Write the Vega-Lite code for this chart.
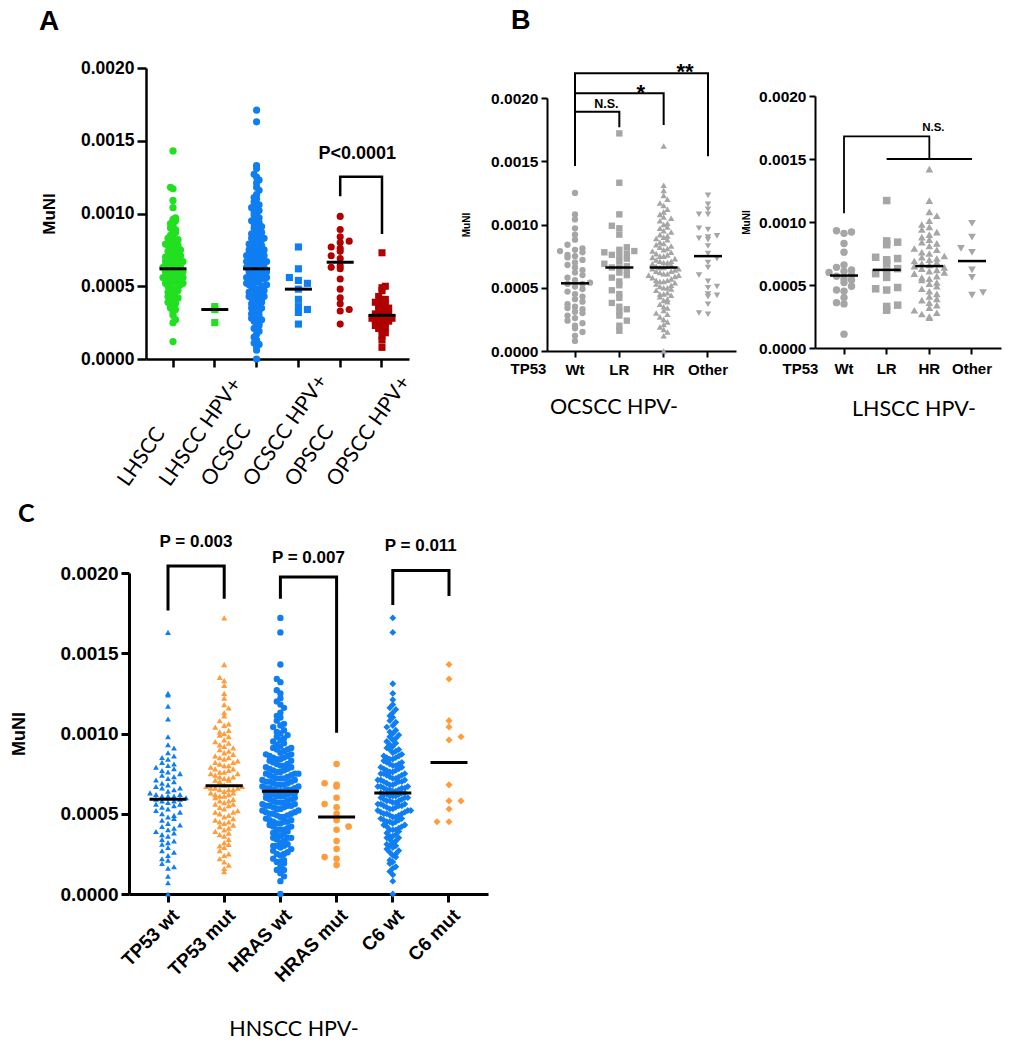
{
"$schema": "https://vega.github.io/schema/vega-lite/v6.json",
"padding": {"left": 10, "top": 7, "right": 5, "bottom": 5},
"config": {
 "view": {"stroke": null},
 "axis": {"grid": false, "domainColor": "#000", "tickColor": "#000", "labelColor": "#000", "titleColor": "#000", "labelFont": "Liberation Sans", "titleFont": "Liberation Sans", "labelFontWeight": "bold", "titleFontWeight": "bold"},
 "text": {"font": "Liberation Sans", "color": "#000"},
 "title": {"font": "Liberation Sans", "color": "#000"}
},
"datasets": {
"A": [
{"g":"LHSCC","v":0.00143},{"g":"LHSCC","v":0.00118},{"g":"LHSCC","v":0.00117},{"g":"LHSCC","v":0.00109},{"g":"LHSCC","v":0.00104},{"g":"LHSCC","v":0.00097},{"g":"LHSCC","v":0.00096},{"g":"LHSCC","v":0.00095},{"g":"LHSCC","v":0.00093},{"g":"LHSCC","v":0.00092},{"g":"LHSCC","v":0.0009},{"g":"LHSCC","v":0.00089},{"g":"LHSCC","v":0.00088},{"g":"LHSCC","v":0.00087},{"g":"LHSCC","v":0.00085},{"g":"LHSCC","v":0.00084},{"g":"LHSCC","v":0.00083},{"g":"LHSCC","v":0.00082},{"g":"LHSCC","v":0.00082},{"g":"LHSCC","v":0.00081},{"g":"LHSCC","v":0.0008},{"g":"LHSCC","v":0.00079},{"g":"LHSCC","v":0.00078},{"g":"LHSCC","v":0.00078},{"g":"LHSCC","v":0.00077},{"g":"LHSCC","v":0.00076},{"g":"LHSCC","v":0.00076},{"g":"LHSCC","v":0.00075},{"g":"LHSCC","v":0.00074},{"g":"LHSCC","v":0.00074},{"g":"LHSCC","v":0.00073},{"g":"LHSCC","v":0.00072},{"g":"LHSCC","v":0.00072},{"g":"LHSCC","v":0.00071},{"g":"LHSCC","v":0.0007},{"g":"LHSCC","v":0.0007},{"g":"LHSCC","v":0.00069},{"g":"LHSCC","v":0.00069},{"g":"LHSCC","v":0.00068},{"g":"LHSCC","v":0.00068},{"g":"LHSCC","v":0.00067},{"g":"LHSCC","v":0.00067},{"g":"LHSCC","v":0.00066},{"g":"LHSCC","v":0.00066},{"g":"LHSCC","v":0.00065},{"g":"LHSCC","v":0.00065},{"g":"LHSCC","v":0.00064},{"g":"LHSCC","v":0.00064},{"g":"LHSCC","v":0.00063},{"g":"LHSCC","v":0.00063},{"g":"LHSCC","v":0.00062},{"g":"LHSCC","v":0.00062},{"g":"LHSCC","v":0.00062},{"g":"LHSCC","v":0.00061},{"g":"LHSCC","v":0.00061},{"g":"LHSCC","v":0.00061},{"g":"LHSCC","v":0.0006},{"g":"LHSCC","v":0.0006},{"g":"LHSCC","v":0.00059},{"g":"LHSCC","v":0.00059},{"g":"LHSCC","v":0.00058},{"g":"LHSCC","v":0.00058},{"g":"LHSCC","v":0.00057},{"g":"LHSCC","v":0.00057},{"g":"LHSCC","v":0.00056},{"g":"LHSCC","v":0.00056},{"g":"LHSCC","v":0.00055},{"g":"LHSCC","v":0.00055},{"g":"LHSCC","v":0.00055},{"g":"LHSCC","v":0.00054},{"g":"LHSCC","v":0.00054},{"g":"LHSCC","v":0.00053},{"g":"LHSCC","v":0.00053},{"g":"LHSCC","v":0.00052},{"g":"LHSCC","v":0.00052},{"g":"LHSCC","v":0.00051},{"g":"LHSCC","v":0.0005},{"g":"LHSCC","v":0.0005},{"g":"LHSCC","v":0.00049},{"g":"LHSCC","v":0.00048},{"g":"LHSCC","v":0.00048},{"g":"LHSCC","v":0.00047},{"g":"LHSCC","v":0.00046},{"g":"LHSCC","v":0.00046},{"g":"LHSCC","v":0.00045},{"g":"LHSCC","v":0.00044},{"g":"LHSCC","v":0.00043},{"g":"LHSCC","v":0.00042},{"g":"LHSCC","v":0.00042},{"g":"LHSCC","v":0.00041},{"g":"LHSCC","v":0.0004},{"g":"LHSCC","v":0.00039},{"g":"LHSCC","v":0.00038},{"g":"LHSCC","v":0.00037},{"g":"LHSCC","v":0.00036},{"g":"LHSCC","v":0.00035},{"g":"LHSCC","v":0.00034},{"g":"LHSCC","v":0.00032},{"g":"LHSCC","v":0.0003},{"g":"LHSCC","v":0.00027},{"g":"LHSCC","v":0.00025},{"g":"LHSCC","v":0.00012},
{"g":"LHSCC HPV+","v":0.00036},{"g":"LHSCC HPV+","v":0.00034},{"g":"LHSCC HPV+","v":0.00025},
{"g":"OCSCC","v":0.00171},{"g":"OCSCC","v":0.00163},{"g":"OCSCC","v":0.00133},{"g":"OCSCC","v":0.00131},{"g":"OCSCC","v":0.00127},{"g":"OCSCC","v":0.00125},{"g":"OCSCC","v":0.00123},{"g":"OCSCC","v":0.00121},{"g":"OCSCC","v":0.00118},{"g":"OCSCC","v":0.00116},{"g":"OCSCC","v":0.00113},{"g":"OCSCC","v":0.00111},{"g":"OCSCC","v":0.0011},{"g":"OCSCC","v":0.00108},{"g":"OCSCC","v":0.00106},{"g":"OCSCC","v":0.00105},{"g":"OCSCC","v":0.00104},{"g":"OCSCC","v":0.00102},{"g":"OCSCC","v":0.00101},{"g":"OCSCC","v":0.001},{"g":"OCSCC","v":0.00099},{"g":"OCSCC","v":0.00097},{"g":"OCSCC","v":0.00096},{"g":"OCSCC","v":0.00095},{"g":"OCSCC","v":0.00094},{"g":"OCSCC","v":0.00093},{"g":"OCSCC","v":0.00092},{"g":"OCSCC","v":0.00091},{"g":"OCSCC","v":0.0009},{"g":"OCSCC","v":0.00089},{"g":"OCSCC","v":0.00088},{"g":"OCSCC","v":0.00087},{"g":"OCSCC","v":0.00086},{"g":"OCSCC","v":0.00086},{"g":"OCSCC","v":0.00085},{"g":"OCSCC","v":0.00084},{"g":"OCSCC","v":0.00083},{"g":"OCSCC","v":0.00083},{"g":"OCSCC","v":0.00082},{"g":"OCSCC","v":0.00081},{"g":"OCSCC","v":0.0008},{"g":"OCSCC","v":0.0008},{"g":"OCSCC","v":0.00079},{"g":"OCSCC","v":0.00078},{"g":"OCSCC","v":0.00078},{"g":"OCSCC","v":0.00077},{"g":"OCSCC","v":0.00076},{"g":"OCSCC","v":0.00076},{"g":"OCSCC","v":0.00075},{"g":"OCSCC","v":0.00075},{"g":"OCSCC","v":0.00074},{"g":"OCSCC","v":0.00074},{"g":"OCSCC","v":0.00073},{"g":"OCSCC","v":0.00072},{"g":"OCSCC","v":0.00072},{"g":"OCSCC","v":0.00071},{"g":"OCSCC","v":0.00071},{"g":"OCSCC","v":0.0007},{"g":"OCSCC","v":0.0007},{"g":"OCSCC","v":0.00069},{"g":"OCSCC","v":0.00069},{"g":"OCSCC","v":0.00068},{"g":"OCSCC","v":0.00068},{"g":"OCSCC","v":0.00067},{"g":"OCSCC","v":0.00067},{"g":"OCSCC","v":0.00066},{"g":"OCSCC","v":0.00066},{"g":"OCSCC","v":0.00065},{"g":"OCSCC","v":0.00065},{"g":"OCSCC","v":0.00065},{"g":"OCSCC","v":0.00064},{"g":"OCSCC","v":0.00064},{"g":"OCSCC","v":0.00063},{"g":"OCSCC","v":0.00063},{"g":"OCSCC","v":0.00063},{"g":"OCSCC","v":0.00062},{"g":"OCSCC","v":0.00062},{"g":"OCSCC","v":0.00062},{"g":"OCSCC","v":0.00061},{"g":"OCSCC","v":0.00061},{"g":"OCSCC","v":0.0006},{"g":"OCSCC","v":0.0006},{"g":"OCSCC","v":0.00059},{"g":"OCSCC","v":0.00059},{"g":"OCSCC","v":0.00058},{"g":"OCSCC","v":0.00058},{"g":"OCSCC","v":0.00057},{"g":"OCSCC","v":0.00057},{"g":"OCSCC","v":0.00056},{"g":"OCSCC","v":0.00056},{"g":"OCSCC","v":0.00055},{"g":"OCSCC","v":0.00055},{"g":"OCSCC","v":0.00055},{"g":"OCSCC","v":0.00054},{"g":"OCSCC","v":0.00054},{"g":"OCSCC","v":0.00053},{"g":"OCSCC","v":0.00053},{"g":"OCSCC","v":0.00052},{"g":"OCSCC","v":0.00051},{"g":"OCSCC","v":0.00051},{"g":"OCSCC","v":0.0005},{"g":"OCSCC","v":0.0005},{"g":"OCSCC","v":0.0005},{"g":"OCSCC","v":0.00049},{"g":"OCSCC","v":0.00048},{"g":"OCSCC","v":0.00048},{"g":"OCSCC","v":0.00047},{"g":"OCSCC","v":0.00046},{"g":"OCSCC","v":0.00046},{"g":"OCSCC","v":0.00045},{"g":"OCSCC","v":0.00045},{"g":"OCSCC","v":0.00045},{"g":"OCSCC","v":0.00044},{"g":"OCSCC","v":0.00043},{"g":"OCSCC","v":0.00043},{"g":"OCSCC","v":0.00042},{"g":"OCSCC","v":0.00041},{"g":"OCSCC","v":0.00041},{"g":"OCSCC","v":0.0004},{"g":"OCSCC","v":0.0004},{"g":"OCSCC","v":0.00039},{"g":"OCSCC","v":0.00038},{"g":"OCSCC","v":0.00037},{"g":"OCSCC","v":0.00037},{"g":"OCSCC","v":0.00036},{"g":"OCSCC","v":0.00035},{"g":"OCSCC","v":0.00035},{"g":"OCSCC","v":0.00034},{"g":"OCSCC","v":0.00033},{"g":"OCSCC","v":0.00032},{"g":"OCSCC","v":0.00031},{"g":"OCSCC","v":0.0003},{"g":"OCSCC","v":0.0003},{"g":"OCSCC","v":0.00029},{"g":"OCSCC","v":0.00028},{"g":"OCSCC","v":0.00027},{"g":"OCSCC","v":0.00026},{"g":"OCSCC","v":0.00025},{"g":"OCSCC","v":0.00024},{"g":"OCSCC","v":0.00023},{"g":"OCSCC","v":0.00021},{"g":"OCSCC","v":0.0002},{"g":"OCSCC","v":0.00019},{"g":"OCSCC","v":0.00017},{"g":"OCSCC","v":0.00015},{"g":"OCSCC","v":0.00013},{"g":"OCSCC","v":0.00011},{"g":"OCSCC","v":0.0001},{"g":"OCSCC","v":0.00008},{"g":"OCSCC","v":0.00006},{"g":"OCSCC","v":0},
{"g":"OCSCC HPV+","v":0.00077},{"g":"OCSCC HPV+","v":0.00062},{"g":"OCSCC HPV+","v":0.00056},{"g":"OCSCC HPV+","v":0.00054},{"g":"OCSCC HPV+","v":0.00052},{"g":"OCSCC HPV+","v":0.00048},{"g":"OCSCC HPV+","v":0.00041},{"g":"OCSCC HPV+","v":0.00036},{"g":"OCSCC HPV+","v":0.00034},{"g":"OCSCC HPV+","v":0.00032},{"g":"OCSCC HPV+","v":0.00024},
{"g":"OPSCC","v":0.00098},{"g":"OPSCC","v":0.00089},{"g":"OPSCC","v":0.00084},{"g":"OPSCC","v":0.00081},{"g":"OPSCC","v":0.0008},{"g":"OPSCC","v":0.00077},{"g":"OPSCC","v":0.00076},{"g":"OPSCC","v":0.00074},{"g":"OPSCC","v":0.00071},{"g":"OPSCC","v":0.00069},{"g":"OPSCC","v":0.00064},{"g":"OPSCC","v":0.00063},{"g":"OPSCC","v":0.00062},{"g":"OPSCC","v":0.00055},{"g":"OPSCC","v":0.00048},{"g":"OPSCC","v":0.00042},{"g":"OPSCC","v":0.00038},{"g":"OPSCC","v":0.00034},{"g":"OPSCC","v":0.00033},{"g":"OPSCC","v":0.00024},
{"g":"OPSCC HPV+","v":0.00073},{"g":"OPSCC HPV+","v":0.0005},{"g":"OPSCC HPV+","v":0.00049},{"g":"OPSCC HPV+","v":0.00047},{"g":"OPSCC HPV+","v":0.00043},{"g":"OPSCC HPV+","v":0.00041},{"g":"OPSCC HPV+","v":0.0004},{"g":"OPSCC HPV+","v":0.00039},{"g":"OPSCC HPV+","v":0.00038},{"g":"OPSCC HPV+","v":0.00037},{"g":"OPSCC HPV+","v":0.00036},{"g":"OPSCC HPV+","v":0.00035},{"g":"OPSCC HPV+","v":0.00034},{"g":"OPSCC HPV+","v":0.00033},{"g":"OPSCC HPV+","v":0.00032},{"g":"OPSCC HPV+","v":0.00031},{"g":"OPSCC HPV+","v":0.00031},{"g":"OPSCC HPV+","v":0.0003},{"g":"OPSCC HPV+","v":0.0003},{"g":"OPSCC HPV+","v":0.00029},{"g":"OPSCC HPV+","v":0.00028},{"g":"OPSCC HPV+","v":0.00028},{"g":"OPSCC HPV+","v":0.00027},{"g":"OPSCC HPV+","v":0.00026},{"g":"OPSCC HPV+","v":0.00025},{"g":"OPSCC HPV+","v":0.00025},{"g":"OPSCC HPV+","v":0.00024},{"g":"OPSCC HPV+","v":0.00023},{"g":"OPSCC HPV+","v":0.00022},{"g":"OPSCC HPV+","v":0.00021},{"g":"OPSCC HPV+","v":0.0002},{"g":"OPSCC HPV+","v":0.00018},{"g":"OPSCC HPV+","v":0.00016},{"g":"OPSCC HPV+","v":0.00013},{"g":"OPSCC HPV+","v":0.00008}
],
"B1": [
{"g":"Wt","v":0.00125},{"g":"Wt","v":0.00108},{"g":"Wt","v":0.00104},{"g":"Wt","v":0.00097},{"g":"Wt","v":0.00092},{"g":"Wt","v":0.00088},{"g":"Wt","v":0.00084},{"g":"Wt","v":0.00081},{"g":"Wt","v":0.0008},{"g":"Wt","v":0.00079},{"g":"Wt","v":0.00078},{"g":"Wt","v":0.00076},{"g":"Wt","v":0.00075},{"g":"Wt","v":0.00074},{"g":"Wt","v":0.00072},{"g":"Wt","v":0.0007},{"g":"Wt","v":0.00068},{"g":"Wt","v":0.00066},{"g":"Wt","v":0.00064},{"g":"Wt","v":0.00062},{"g":"Wt","v":0.0006},{"g":"Wt","v":0.00058},{"g":"Wt","v":0.00056},{"g":"Wt","v":0.00054},{"g":"Wt","v":0.00053},{"g":"Wt","v":0.00053},{"g":"Wt","v":0.00051},{"g":"Wt","v":0.00049},{"g":"Wt","v":0.00047},{"g":"Wt","v":0.00045},{"g":"Wt","v":0.00043},{"g":"Wt","v":0.00041},{"g":"Wt","v":0.00039},{"g":"Wt","v":0.00037},{"g":"Wt","v":0.00035},{"g":"Wt","v":0.00034},{"g":"Wt","v":0.00033},{"g":"Wt","v":0.00031},{"g":"Wt","v":0.0003},{"g":"Wt","v":0.00028},{"g":"Wt","v":0.00026},{"g":"Wt","v":0.00024},{"g":"Wt","v":0.00022},{"g":"Wt","v":0.0002},{"g":"Wt","v":0.00018},{"g":"Wt","v":0.00015},{"g":"Wt","v":0.00012},{"g":"Wt","v":0.00008},
{"g":"LR","v":0.00172},{"g":"LR","v":0.00133},{"g":"LR","v":0.00108},{"g":"LR","v":0.00099},{"g":"LR","v":0.00097},{"g":"LR","v":0.00092},{"g":"LR","v":0.00082},{"g":"LR","v":0.0008},{"g":"LR","v":0.00079},{"g":"LR","v":0.00078},{"g":"LR","v":0.00077},{"g":"LR","v":0.00076},{"g":"LR","v":0.00075},{"g":"LR","v":0.00073},{"g":"LR","v":0.00071},{"g":"LR","v":0.00069},{"g":"LR","v":0.00067},{"g":"LR","v":0.00066},{"g":"LR","v":0.00066},{"g":"LR","v":0.00064},{"g":"LR","v":0.00062},{"g":"LR","v":0.0006},{"g":"LR","v":0.00058},{"g":"LR","v":0.00055},{"g":"LR","v":0.00052},{"g":"LR","v":0.00048},{"g":"LR","v":0.00045},{"g":"LR","v":0.00042},{"g":"LR","v":0.00038},{"g":"LR","v":0.00035},{"g":"LR","v":0.00033},{"g":"LR","v":0.00031},{"g":"LR","v":0.00028},{"g":"LR","v":0.00024},{"g":"LR","v":0.0002},{"g":"LR","v":0.00016},
{"g":"HR","v":0.00162},{"g":"HR","v":0.00131},{"g":"HR","v":0.00127},{"g":"HR","v":0.00123},{"g":"HR","v":0.0012},{"g":"HR","v":0.00117},{"g":"HR","v":0.00115},{"g":"HR","v":0.00112},{"g":"HR","v":0.0011},{"g":"HR","v":0.00108},{"g":"HR","v":0.00106},{"g":"HR","v":0.00105},{"g":"HR","v":0.00103},{"g":"HR","v":0.00101},{"g":"HR","v":0.001},{"g":"HR","v":0.00098},{"g":"HR","v":0.00097},{"g":"HR","v":0.00095},{"g":"HR","v":0.00094},{"g":"HR","v":0.00092},{"g":"HR","v":0.00091},{"g":"HR","v":0.0009},{"g":"HR","v":0.00089},{"g":"HR","v":0.00088},{"g":"HR","v":0.00086},{"g":"HR","v":0.00085},{"g":"HR","v":0.00084},{"g":"HR","v":0.00083},{"g":"HR","v":0.00082},{"g":"HR","v":0.00081},{"g":"HR","v":0.0008},{"g":"HR","v":0.00079},{"g":"HR","v":0.00078},{"g":"HR","v":0.00077},{"g":"HR","v":0.00076},{"g":"HR","v":0.00075},{"g":"HR","v":0.00075},{"g":"HR","v":0.00074},{"g":"HR","v":0.00073},{"g":"HR","v":0.00072},{"g":"HR","v":0.00071},{"g":"HR","v":0.00071},{"g":"HR","v":0.0007},{"g":"HR","v":0.0007},{"g":"HR","v":0.00069},{"g":"HR","v":0.00068},{"g":"HR","v":0.00067},{"g":"HR","v":0.00067},{"g":"HR","v":0.00066},{"g":"HR","v":0.00066},{"g":"HR","v":0.00065},{"g":"HR","v":0.00065},{"g":"HR","v":0.00064},{"g":"HR","v":0.00063},{"g":"HR","v":0.00063},{"g":"HR","v":0.00062},{"g":"HR","v":0.00061},{"g":"HR","v":0.00061},{"g":"HR","v":0.0006},{"g":"HR","v":0.0006},{"g":"HR","v":0.00059},{"g":"HR","v":0.00058},{"g":"HR","v":0.00057},{"g":"HR","v":0.00056},{"g":"HR","v":0.00056},{"g":"HR","v":0.00055},{"g":"HR","v":0.00055},{"g":"HR","v":0.00054},{"g":"HR","v":0.00053},{"g":"HR","v":0.00052},{"g":"HR","v":0.00051},{"g":"HR","v":0.0005},{"g":"HR","v":0.0005},{"g":"HR","v":0.00049},{"g":"HR","v":0.00048},{"g":"HR","v":0.00046},{"g":"HR","v":0.00045},{"g":"HR","v":0.00045},{"g":"HR","v":0.00044},{"g":"HR","v":0.00043},{"g":"HR","v":0.00041},{"g":"HR","v":0.0004},{"g":"HR","v":0.00039},{"g":"HR","v":0.00037},{"g":"HR","v":0.00035},{"g":"HR","v":0.00034},{"g":"HR","v":0.00032},{"g":"HR","v":0.0003},{"g":"HR","v":0.00029},{"g":"HR","v":0.00027},{"g":"HR","v":0.00025},{"g":"HR","v":0.00023},{"g":"HR","v":0.00021},{"g":"HR","v":0.00019},{"g":"HR","v":0.00017},{"g":"HR","v":0.00015},{"g":"HR","v":0.00012},{"g":"HR","v":0},
{"g":"Other","v":0.00123},{"g":"Other","v":0.00116},{"g":"Other","v":0.00112},{"g":"Other","v":0.00108},{"g":"Other","v":0.00108},{"g":"Other","v":0.00097},{"g":"Other","v":0.00096},{"g":"Other","v":0.00091},{"g":"Other","v":0.0009},{"g":"Other","v":0.00089},{"g":"Other","v":0.00088},{"g":"Other","v":0.00083},{"g":"Other","v":0.00077},{"g":"Other","v":0.00073},{"g":"Other","v":0.0007},{"g":"Other","v":0.00066},{"g":"Other","v":0.0006},{"g":"Other","v":0.00055},{"g":"Other","v":0.00051},{"g":"Other","v":0.0005},{"g":"Other","v":0.00045},{"g":"Other","v":0.00044},{"g":"Other","v":0.00043},{"g":"Other","v":0.00037},{"g":"Other","v":0.0003},{"g":"Other","v":0.00029}
],
"B2": [
{"g":"Wt","v":0.00093},{"g":"Wt","v":0.00092},{"g":"Wt","v":0.00091},{"g":"Wt","v":0.00083},{"g":"Wt","v":0.00076},{"g":"Wt","v":0.00066},{"g":"Wt","v":0.00064},{"g":"Wt","v":0.00062},{"g":"Wt","v":0.00061},{"g":"Wt","v":0.0006},{"g":"Wt","v":0.00058},{"g":"Wt","v":0.00057},{"g":"Wt","v":0.00055},{"g":"Wt","v":0.00054},{"g":"Wt","v":0.00052},{"g":"Wt","v":0.00049},{"g":"Wt","v":0.00046},{"g":"Wt","v":0.00045},{"g":"Wt","v":0.0004},{"g":"Wt","v":0.00036},{"g":"Wt","v":0.00035},{"g":"Wt","v":0.00011},
{"g":"LR","v":0.00117},{"g":"LR","v":0.00085},{"g":"LR","v":0.00084},{"g":"LR","v":0.00082},{"g":"LR","v":0.00072},{"g":"LR","v":0.00071},{"g":"LR","v":0.0007},{"g":"LR","v":0.00067},{"g":"LR","v":0.00063},{"g":"LR","v":0.00061},{"g":"LR","v":0.00059},{"g":"LR","v":0.00056},{"g":"LR","v":0.00048},{"g":"LR","v":0.00047},{"g":"LR","v":0.00046},{"g":"LR","v":0.00034},{"g":"LR","v":0.00033},{"g":"LR","v":0.0003},
{"g":"HR","v":0.00142},{"g":"HR","v":0.00117},{"g":"HR","v":0.00108},{"g":"HR","v":0.00105},{"g":"HR","v":0.00101},{"g":"HR","v":0.00098},{"g":"HR","v":0.00096},{"g":"HR","v":0.00094},{"g":"HR","v":0.00092},{"g":"HR","v":0.0009},{"g":"HR","v":0.00088},{"g":"HR","v":0.00086},{"g":"HR","v":0.00084},{"g":"HR","v":0.00083},{"g":"HR","v":0.00081},{"g":"HR","v":0.00079},{"g":"HR","v":0.00078},{"g":"HR","v":0.00076},{"g":"HR","v":0.00075},{"g":"HR","v":0.00073},{"g":"HR","v":0.00072},{"g":"HR","v":0.00071},{"g":"HR","v":0.0007},{"g":"HR","v":0.00069},{"g":"HR","v":0.00068},{"g":"HR","v":0.00067},{"g":"HR","v":0.00066},{"g":"HR","v":0.00065},{"g":"HR","v":0.00064},{"g":"HR","v":0.00063},{"g":"HR","v":0.00062},{"g":"HR","v":0.00061},{"g":"HR","v":0.0006},{"g":"HR","v":0.00059},{"g":"HR","v":0.00057},{"g":"HR","v":0.00056},{"g":"HR","v":0.00055},{"g":"HR","v":0.00054},{"g":"HR","v":0.00052},{"g":"HR","v":0.00051},{"g":"HR","v":0.00049},{"g":"HR","v":0.00047},{"g":"HR","v":0.00045},{"g":"HR","v":0.00043},{"g":"HR","v":0.00041},{"g":"HR","v":0.00039},{"g":"HR","v":0.00038},{"g":"HR","v":0.00036},{"g":"HR","v":0.00034},{"g":"HR","v":0.00032},{"g":"HR","v":0.0003},{"g":"HR","v":0.00028},{"g":"HR","v":0.00027},{"g":"HR","v":0.00025},{"g":"HR","v":0.00024},
{"g":"Other","v":0.00099},{"g":"Other","v":0.00088},{"g":"Other","v":0.00079},{"g":"Other","v":0.00076},{"g":"Other","v":0.00062},{"g":"Other","v":0.00056},{"g":"Other","v":0.00044},{"g":"Other","v":0.00042}
],
"C": [
{"g":"TP53 wt","v":0.00163},{"g":"TP53 wt","v":0.00125},{"g":"TP53 wt","v":0.00124},{"g":"TP53 wt","v":0.00117},{"g":"TP53 wt","v":0.00109},{"g":"TP53 wt","v":0.00098},{"g":"TP53 wt","v":0.00093},{"g":"TP53 wt","v":0.00091},{"g":"TP53 wt","v":0.00088},{"g":"TP53 wt","v":0.00086},{"g":"TP53 wt","v":0.00085},{"g":"TP53 wt","v":0.00084},{"g":"TP53 wt","v":0.00082},{"g":"TP53 wt","v":0.00081},{"g":"TP53 wt","v":0.0008},{"g":"TP53 wt","v":0.00079},{"g":"TP53 wt","v":0.00078},{"g":"TP53 wt","v":0.00077},{"g":"TP53 wt","v":0.00076},{"g":"TP53 wt","v":0.00075},{"g":"TP53 wt","v":0.00074},{"g":"TP53 wt","v":0.00073},{"g":"TP53 wt","v":0.00072},{"g":"TP53 wt","v":0.00071},{"g":"TP53 wt","v":0.0007},{"g":"TP53 wt","v":0.00069},{"g":"TP53 wt","v":0.00068},{"g":"TP53 wt","v":0.00067},{"g":"TP53 wt","v":0.00066},{"g":"TP53 wt","v":0.00066},{"g":"TP53 wt","v":0.00065},{"g":"TP53 wt","v":0.00064},{"g":"TP53 wt","v":0.00063},{"g":"TP53 wt","v":0.00062},{"g":"TP53 wt","v":0.00062},{"g":"TP53 wt","v":0.00061},{"g":"TP53 wt","v":0.00061},{"g":"TP53 wt","v":0.00061},{"g":"TP53 wt","v":0.0006},{"g":"TP53 wt","v":0.00059},{"g":"TP53 wt","v":0.00059},{"g":"TP53 wt","v":0.00058},{"g":"TP53 wt","v":0.00058},{"g":"TP53 wt","v":0.00057},{"g":"TP53 wt","v":0.00056},{"g":"TP53 wt","v":0.00056},{"g":"TP53 wt","v":0.00055},{"g":"TP53 wt","v":0.00054},{"g":"TP53 wt","v":0.00053},{"g":"TP53 wt","v":0.00052},{"g":"TP53 wt","v":0.00051},{"g":"TP53 wt","v":0.0005},{"g":"TP53 wt","v":0.00049},{"g":"TP53 wt","v":0.00048},{"g":"TP53 wt","v":0.00047},{"g":"TP53 wt","v":0.00046},{"g":"TP53 wt","v":0.00044},{"g":"TP53 wt","v":0.00043},{"g":"TP53 wt","v":0.00042},{"g":"TP53 wt","v":0.00041},{"g":"TP53 wt","v":0.0004},{"g":"TP53 wt","v":0.00039},{"g":"TP53 wt","v":0.00038},{"g":"TP53 wt","v":0.00037},{"g":"TP53 wt","v":0.00036},{"g":"TP53 wt","v":0.00034},{"g":"TP53 wt","v":0.00033},{"g":"TP53 wt","v":0.00032},{"g":"TP53 wt","v":0.00031},{"g":"TP53 wt","v":0.00029},{"g":"TP53 wt","v":0.00027},{"g":"TP53 wt","v":0.00026},{"g":"TP53 wt","v":0.00024},{"g":"TP53 wt","v":0.00022},{"g":"TP53 wt","v":0.00021},{"g":"TP53 wt","v":0.00019},{"g":"TP53 wt","v":0.00017},{"g":"TP53 wt","v":0.00016},{"g":"TP53 wt","v":0.00011},{"g":"TP53 wt","v":0.00007},{"g":"TP53 wt","v":0},
{"g":"TP53 mut","v":0.00172},{"g":"TP53 mut","v":0.00143},{"g":"TP53 mut","v":0.00135},{"g":"TP53 mut","v":0.00133},{"g":"TP53 mut","v":0.0013},{"g":"TP53 mut","v":0.00125},{"g":"TP53 mut","v":0.00122},{"g":"TP53 mut","v":0.00118},{"g":"TP53 mut","v":0.00116},{"g":"TP53 mut","v":0.00113},{"g":"TP53 mut","v":0.00111},{"g":"TP53 mut","v":0.00108},{"g":"TP53 mut","v":0.00106},{"g":"TP53 mut","v":0.00105},{"g":"TP53 mut","v":0.00104},{"g":"TP53 mut","v":0.00102},{"g":"TP53 mut","v":0.00101},{"g":"TP53 mut","v":0.001},{"g":"TP53 mut","v":0.00099},{"g":"TP53 mut","v":0.00098},{"g":"TP53 mut","v":0.00096},{"g":"TP53 mut","v":0.00095},{"g":"TP53 mut","v":0.00094},{"g":"TP53 mut","v":0.00093},{"g":"TP53 mut","v":0.00092},{"g":"TP53 mut","v":0.00091},{"g":"TP53 mut","v":0.0009},{"g":"TP53 mut","v":0.00089},{"g":"TP53 mut","v":0.00088},{"g":"TP53 mut","v":0.00087},{"g":"TP53 mut","v":0.00086},{"g":"TP53 mut","v":0.00085},{"g":"TP53 mut","v":0.00085},{"g":"TP53 mut","v":0.00084},{"g":"TP53 mut","v":0.00083},{"g":"TP53 mut","v":0.00082},{"g":"TP53 mut","v":0.00082},{"g":"TP53 mut","v":0.00081},{"g":"TP53 mut","v":0.0008},{"g":"TP53 mut","v":0.0008},{"g":"TP53 mut","v":0.00079},{"g":"TP53 mut","v":0.00078},{"g":"TP53 mut","v":0.00078},{"g":"TP53 mut","v":0.00077},{"g":"TP53 mut","v":0.00076},{"g":"TP53 mut","v":0.00076},{"g":"TP53 mut","v":0.00075},{"g":"TP53 mut","v":0.00075},{"g":"TP53 mut","v":0.00074},{"g":"TP53 mut","v":0.00073},{"g":"TP53 mut","v":0.00073},{"g":"TP53 mut","v":0.00072},{"g":"TP53 mut","v":0.00072},{"g":"TP53 mut","v":0.00071},{"g":"TP53 mut","v":0.00071},{"g":"TP53 mut","v":0.0007},{"g":"TP53 mut","v":0.00068},{"g":"TP53 mut","v":0.00067},{"g":"TP53 mut","v":0.00067},{"g":"TP53 mut","v":0.00066},{"g":"TP53 mut","v":0.00066},{"g":"TP53 mut","v":0.00066},{"g":"TP53 mut","v":0.00065},{"g":"TP53 mut","v":0.00065},{"g":"TP53 mut","v":0.00065},{"g":"TP53 mut","v":0.00064},{"g":"TP53 mut","v":0.00063},{"g":"TP53 mut","v":0.00063},{"g":"TP53 mut","v":0.00062},{"g":"TP53 mut","v":0.00062},{"g":"TP53 mut","v":0.00061},{"g":"TP53 mut","v":0.00061},{"g":"TP53 mut","v":0.0006},{"g":"TP53 mut","v":0.00059},{"g":"TP53 mut","v":0.00058},{"g":"TP53 mut","v":0.00058},{"g":"TP53 mut","v":0.00057},{"g":"TP53 mut","v":0.00056},{"g":"TP53 mut","v":0.00056},{"g":"TP53 mut","v":0.00055},{"g":"TP53 mut","v":0.00054},{"g":"TP53 mut","v":0.00053},{"g":"TP53 mut","v":0.00052},{"g":"TP53 mut","v":0.00051},{"g":"TP53 mut","v":0.00051},{"g":"TP53 mut","v":0.0005},{"g":"TP53 mut","v":0.00049},{"g":"TP53 mut","v":0.00048},{"g":"TP53 mut","v":0.00047},{"g":"TP53 mut","v":0.00046},{"g":"TP53 mut","v":0.00045},{"g":"TP53 mut","v":0.00045},{"g":"TP53 mut","v":0.00044},{"g":"TP53 mut","v":0.00043},{"g":"TP53 mut","v":0.00042},{"g":"TP53 mut","v":0.00041},{"g":"TP53 mut","v":0.0004},{"g":"TP53 mut","v":0.00039},{"g":"TP53 mut","v":0.00038},{"g":"TP53 mut","v":0.00037},{"g":"TP53 mut","v":0.00036},{"g":"TP53 mut","v":0.00034},{"g":"TP53 mut","v":0.00032},{"g":"TP53 mut","v":0.00031},{"g":"TP53 mut","v":0.0003},{"g":"TP53 mut","v":0.00029},{"g":"TP53 mut","v":0.00027},{"g":"TP53 mut","v":0.00025},{"g":"TP53 mut","v":0.00024},{"g":"TP53 mut","v":0.00022},{"g":"TP53 mut","v":0.0002},{"g":"TP53 mut","v":0.00018},{"g":"TP53 mut","v":0.00016},{"g":"TP53 mut","v":0.00014},
{"g":"HRAS wt","v":0.00172},{"g":"HRAS wt","v":0.00163},{"g":"HRAS wt","v":0.00143},{"g":"HRAS wt","v":0.00134},{"g":"HRAS wt","v":0.00132},{"g":"HRAS wt","v":0.00127},{"g":"HRAS wt","v":0.00125},{"g":"HRAS wt","v":0.00122},{"g":"HRAS wt","v":0.0012},{"g":"HRAS wt","v":0.00118},{"g":"HRAS wt","v":0.00116},{"g":"HRAS wt","v":0.00113},{"g":"HRAS wt","v":0.00111},{"g":"HRAS wt","v":0.0011},{"g":"HRAS wt","v":0.00108},{"g":"HRAS wt","v":0.00106},{"g":"HRAS wt","v":0.00105},{"g":"HRAS wt","v":0.00104},{"g":"HRAS wt","v":0.00102},{"g":"HRAS wt","v":0.00101},{"g":"HRAS wt","v":0.001},{"g":"HRAS wt","v":0.00099},{"g":"HRAS wt","v":0.00098},{"g":"HRAS wt","v":0.00097},{"g":"HRAS wt","v":0.00096},{"g":"HRAS wt","v":0.00095},{"g":"HRAS wt","v":0.00094},{"g":"HRAS wt","v":0.00093},{"g":"HRAS wt","v":0.00092},{"g":"HRAS wt","v":0.00091},{"g":"HRAS wt","v":0.00091},{"g":"HRAS wt","v":0.0009},{"g":"HRAS wt","v":0.0009},{"g":"HRAS wt","v":0.00089},{"g":"HRAS wt","v":0.00088},{"g":"HRAS wt","v":0.00087},{"g":"HRAS wt","v":0.00087},{"g":"HRAS wt","v":0.00086},{"g":"HRAS wt","v":0.00086},{"g":"HRAS wt","v":0.00085},{"g":"HRAS wt","v":0.00085},{"g":"HRAS wt","v":0.00084},{"g":"HRAS wt","v":0.00084},{"g":"HRAS wt","v":0.00083},{"g":"HRAS wt","v":0.00083},{"g":"HRAS wt","v":0.00082},{"g":"HRAS wt","v":0.00081},{"g":"HRAS wt","v":0.00081},{"g":"HRAS wt","v":0.0008},{"g":"HRAS wt","v":0.0008},{"g":"HRAS wt","v":0.00079},{"g":"HRAS wt","v":0.00079},{"g":"HRAS wt","v":0.00078},{"g":"HRAS wt","v":0.00078},{"g":"HRAS wt","v":0.00077},{"g":"HRAS wt","v":0.00077},{"g":"HRAS wt","v":0.00076},{"g":"HRAS wt","v":0.00076},{"g":"HRAS wt","v":0.00075},{"g":"HRAS wt","v":0.00075},{"g":"HRAS wt","v":0.00075},{"g":"HRAS wt","v":0.00074},{"g":"HRAS wt","v":0.00074},{"g":"HRAS wt","v":0.00073},{"g":"HRAS wt","v":0.00073},{"g":"HRAS wt","v":0.00072},{"g":"HRAS wt","v":0.00072},{"g":"HRAS wt","v":0.00072},{"g":"HRAS wt","v":0.00071},{"g":"HRAS wt","v":0.00071},{"g":"HRAS wt","v":0.0007},{"g":"HRAS wt","v":0.0007},{"g":"HRAS wt","v":0.0007},{"g":"HRAS wt","v":0.00069},{"g":"HRAS wt","v":0.00069},{"g":"HRAS wt","v":0.00068},{"g":"HRAS wt","v":0.00068},{"g":"HRAS wt","v":0.00068},{"g":"HRAS wt","v":0.00067},{"g":"HRAS wt","v":0.00067},{"g":"HRAS wt","v":0.00066},{"g":"HRAS wt","v":0.00066},{"g":"HRAS wt","v":0.00066},{"g":"HRAS wt","v":0.00065},{"g":"HRAS wt","v":0.00065},{"g":"HRAS wt","v":0.00065},{"g":"HRAS wt","v":0.00064},{"g":"HRAS wt","v":0.00064},{"g":"HRAS wt","v":0.00064},{"g":"HRAS wt","v":0.00063},{"g":"HRAS wt","v":0.00063},{"g":"HRAS wt","v":0.00063},{"g":"HRAS wt","v":0.00062},{"g":"HRAS wt","v":0.00062},{"g":"HRAS wt","v":0.00062},{"g":"HRAS wt","v":0.00061},{"g":"HRAS wt","v":0.00061},{"g":"HRAS wt","v":0.00061},{"g":"HRAS wt","v":0.0006},{"g":"HRAS wt","v":0.0006},{"g":"HRAS wt","v":0.00059},{"g":"HRAS wt","v":0.00059},{"g":"HRAS wt","v":0.00058},{"g":"HRAS wt","v":0.00058},{"g":"HRAS wt","v":0.00057},{"g":"HRAS wt","v":0.00057},{"g":"HRAS wt","v":0.00057},{"g":"HRAS wt","v":0.00056},{"g":"HRAS wt","v":0.00056},{"g":"HRAS wt","v":0.00055},{"g":"HRAS wt","v":0.00055},{"g":"HRAS wt","v":0.00055},{"g":"HRAS wt","v":0.00055},{"g":"HRAS wt","v":0.00054},{"g":"HRAS wt","v":0.00054},{"g":"HRAS wt","v":0.00053},{"g":"HRAS wt","v":0.00053},{"g":"HRAS wt","v":0.00052},{"g":"HRAS wt","v":0.00052},{"g":"HRAS wt","v":0.00051},{"g":"HRAS wt","v":0.00051},{"g":"HRAS wt","v":0.0005},{"g":"HRAS wt","v":0.0005},{"g":"HRAS wt","v":0.0005},{"g":"HRAS wt","v":0.00049},{"g":"HRAS wt","v":0.00049},{"g":"HRAS wt","v":0.00048},{"g":"HRAS wt","v":0.00048},{"g":"HRAS wt","v":0.00047},{"g":"HRAS wt","v":0.00046},{"g":"HRAS wt","v":0.00046},{"g":"HRAS wt","v":0.00045},{"g":"HRAS wt","v":0.00045},{"g":"HRAS wt","v":0.00045},{"g":"HRAS wt","v":0.00044},{"g":"HRAS wt","v":0.00044},{"g":"HRAS wt","v":0.00043},{"g":"HRAS wt","v":0.00042},{"g":"HRAS wt","v":0.00042},{"g":"HRAS wt","v":0.00041},{"g":"HRAS wt","v":0.0004},{"g":"HRAS wt","v":0.0004},{"g":"HRAS wt","v":0.0004},{"g":"HRAS wt","v":0.00039},{"g":"HRAS wt","v":0.00038},{"g":"HRAS wt","v":0.00037},{"g":"HRAS wt","v":0.00037},{"g":"HRAS wt","v":0.00036},{"g":"HRAS wt","v":0.00035},{"g":"HRAS wt","v":0.00035},{"g":"HRAS wt","v":0.00035},{"g":"HRAS wt","v":0.00034},{"g":"HRAS wt","v":0.00033},{"g":"HRAS wt","v":0.00032},{"g":"HRAS wt","v":0.00031},{"g":"HRAS wt","v":0.0003},{"g":"HRAS wt","v":0.0003},{"g":"HRAS wt","v":0.0003},{"g":"HRAS wt","v":0.00029},{"g":"HRAS wt","v":0.00028},{"g":"HRAS wt","v":0.00027},{"g":"HRAS wt","v":0.00026},{"g":"HRAS wt","v":0.00025},{"g":"HRAS wt","v":0.00025},{"g":"HRAS wt","v":0.00024},{"g":"HRAS wt","v":0.00022},{"g":"HRAS wt","v":0.00021},{"g":"HRAS wt","v":0.0002},{"g":"HRAS wt","v":0.0002},{"g":"HRAS wt","v":0.00019},{"g":"HRAS wt","v":0.00017},{"g":"HRAS wt","v":0.00015},{"g":"HRAS wt","v":0.00015},{"g":"HRAS wt","v":0.00013},{"g":"HRAS wt","v":0.00011},{"g":"HRAS wt","v":0.00008},{"g":"HRAS wt","v":0},
{"g":"HRAS mut","v":0.00081},{"g":"HRAS mut","v":0.00069},{"g":"HRAS mut","v":0.00068},{"g":"HRAS mut","v":0.00067},{"g":"HRAS mut","v":0.0006},{"g":"HRAS mut","v":0.00056},{"g":"HRAS mut","v":0.00054},{"g":"HRAS mut","v":0.0005},{"g":"HRAS mut","v":0.00046},{"g":"HRAS mut","v":0.00042},{"g":"HRAS mut","v":0.0004},{"g":"HRAS mut","v":0.00033},{"g":"HRAS mut","v":0.00028},{"g":"HRAS mut","v":0.00023},{"g":"HRAS mut","v":0.00022},{"g":"HRAS mut","v":0.00018},
{"g":"C6 wt","v":0.00172},{"g":"C6 wt","v":0.00163},{"g":"C6 wt","v":0.00131},{"g":"C6 wt","v":0.00125},{"g":"C6 wt","v":0.00121},{"g":"C6 wt","v":0.00118},{"g":"C6 wt","v":0.00116},{"g":"C6 wt","v":0.00115},{"g":"C6 wt","v":0.00113},{"g":"C6 wt","v":0.00111},{"g":"C6 wt","v":0.0011},{"g":"C6 wt","v":0.00108},{"g":"C6 wt","v":0.00107},{"g":"C6 wt","v":0.00105},{"g":"C6 wt","v":0.00104},{"g":"C6 wt","v":0.00102},{"g":"C6 wt","v":0.00101},{"g":"C6 wt","v":0.001},{"g":"C6 wt","v":0.00099},{"g":"C6 wt","v":0.00098},{"g":"C6 wt","v":0.00097},{"g":"C6 wt","v":0.00096},{"g":"C6 wt","v":0.00095},{"g":"C6 wt","v":0.00094},{"g":"C6 wt","v":0.00093},{"g":"C6 wt","v":0.00092},{"g":"C6 wt","v":0.00091},{"g":"C6 wt","v":0.0009},{"g":"C6 wt","v":0.0009},{"g":"C6 wt","v":0.00089},{"g":"C6 wt","v":0.00088},{"g":"C6 wt","v":0.00087},{"g":"C6 wt","v":0.00086},{"g":"C6 wt","v":0.00086},{"g":"C6 wt","v":0.00085},{"g":"C6 wt","v":0.00085},{"g":"C6 wt","v":0.00084},{"g":"C6 wt","v":0.00084},{"g":"C6 wt","v":0.00083},{"g":"C6 wt","v":0.00082},{"g":"C6 wt","v":0.00082},{"g":"C6 wt","v":0.00081},{"g":"C6 wt","v":0.00081},{"g":"C6 wt","v":0.0008},{"g":"C6 wt","v":0.0008},{"g":"C6 wt","v":0.00079},{"g":"C6 wt","v":0.00079},{"g":"C6 wt","v":0.00078},{"g":"C6 wt","v":0.00078},{"g":"C6 wt","v":0.00077},{"g":"C6 wt","v":0.00077},{"g":"C6 wt","v":0.00076},{"g":"C6 wt","v":0.00076},{"g":"C6 wt","v":0.00075},{"g":"C6 wt","v":0.00075},{"g":"C6 wt","v":0.00075},{"g":"C6 wt","v":0.00074},{"g":"C6 wt","v":0.00074},{"g":"C6 wt","v":0.00073},{"g":"C6 wt","v":0.00073},{"g":"C6 wt","v":0.00072},{"g":"C6 wt","v":0.00072},{"g":"C6 wt","v":0.00071},{"g":"C6 wt","v":0.00071},{"g":"C6 wt","v":0.00071},{"g":"C6 wt","v":0.0007},{"g":"C6 wt","v":0.0007},{"g":"C6 wt","v":0.0007},{"g":"C6 wt","v":0.00069},{"g":"C6 wt","v":0.00069},{"g":"C6 wt","v":0.00068},{"g":"C6 wt","v":0.00068},{"g":"C6 wt","v":0.00067},{"g":"C6 wt","v":0.00067},{"g":"C6 wt","v":0.00067},{"g":"C6 wt","v":0.00066},{"g":"C6 wt","v":0.00066},{"g":"C6 wt","v":0.00066},{"g":"C6 wt","v":0.00065},{"g":"C6 wt","v":0.00065},{"g":"C6 wt","v":0.00065},{"g":"C6 wt","v":0.00064},{"g":"C6 wt","v":0.00064},{"g":"C6 wt","v":0.00063},{"g":"C6 wt","v":0.00063},{"g":"C6 wt","v":0.00063},{"g":"C6 wt","v":0.00062},{"g":"C6 wt","v":0.00062},{"g":"C6 wt","v":0.00062},{"g":"C6 wt","v":0.00061},{"g":"C6 wt","v":0.00061},{"g":"C6 wt","v":0.00061},{"g":"C6 wt","v":0.0006},{"g":"C6 wt","v":0.0006},{"g":"C6 wt","v":0.0006},{"g":"C6 wt","v":0.00059},{"g":"C6 wt","v":0.00059},{"g":"C6 wt","v":0.00058},{"g":"C6 wt","v":0.00058},{"g":"C6 wt","v":0.00058},{"g":"C6 wt","v":0.00057},{"g":"C6 wt","v":0.00057},{"g":"C6 wt","v":0.00056},{"g":"C6 wt","v":0.00056},{"g":"C6 wt","v":0.00056},{"g":"C6 wt","v":0.00055},{"g":"C6 wt","v":0.00055},{"g":"C6 wt","v":0.00055},{"g":"C6 wt","v":0.00054},{"g":"C6 wt","v":0.00054},{"g":"C6 wt","v":0.00053},{"g":"C6 wt","v":0.00053},{"g":"C6 wt","v":0.00052},{"g":"C6 wt","v":0.00052},{"g":"C6 wt","v":0.00052},{"g":"C6 wt","v":0.00051},{"g":"C6 wt","v":0.00051},{"g":"C6 wt","v":0.0005},{"g":"C6 wt","v":0.0005},{"g":"C6 wt","v":0.0005},{"g":"C6 wt","v":0.00049},{"g":"C6 wt","v":0.00049},{"g":"C6 wt","v":0.00048},{"g":"C6 wt","v":0.00048},{"g":"C6 wt","v":0.00047},{"g":"C6 wt","v":0.00047},{"g":"C6 wt","v":0.00046},{"g":"C6 wt","v":0.00046},{"g":"C6 wt","v":0.00045},{"g":"C6 wt","v":0.00045},{"g":"C6 wt","v":0.00045},{"g":"C6 wt","v":0.00044},{"g":"C6 wt","v":0.00043},{"g":"C6 wt","v":0.00043},{"g":"C6 wt","v":0.00042},{"g":"C6 wt","v":0.00042},{"g":"C6 wt","v":0.00041},{"g":"C6 wt","v":0.0004},{"g":"C6 wt","v":0.0004},{"g":"C6 wt","v":0.0004},{"g":"C6 wt","v":0.00039},{"g":"C6 wt","v":0.00038},{"g":"C6 wt","v":0.00037},{"g":"C6 wt","v":0.00036},{"g":"C6 wt","v":0.00036},{"g":"C6 wt","v":0.00035},{"g":"C6 wt","v":0.00035},{"g":"C6 wt","v":0.00034},{"g":"C6 wt","v":0.00033},{"g":"C6 wt","v":0.00032},{"g":"C6 wt","v":0.00031},{"g":"C6 wt","v":0.0003},{"g":"C6 wt","v":0.0003},{"g":"C6 wt","v":0.00029},{"g":"C6 wt","v":0.00028},{"g":"C6 wt","v":0.00027},{"g":"C6 wt","v":0.00026},{"g":"C6 wt","v":0.00025},{"g":"C6 wt","v":0.00024},{"g":"C6 wt","v":0.00023},{"g":"C6 wt","v":0.00021},{"g":"C6 wt","v":0.0002},{"g":"C6 wt","v":0.00019},{"g":"C6 wt","v":0.00017},{"g":"C6 wt","v":0.00016},{"g":"C6 wt","v":0.00014},{"g":"C6 wt","v":0.00012},{"g":"C6 wt","v":0.00008},{"g":"C6 wt","v":0},
{"g":"C6 mut","v":0.00143},{"g":"C6 mut","v":0.00134},{"g":"C6 mut","v":0.00108},{"g":"C6 mut","v":0.00104},{"g":"C6 mut","v":0.00098},{"g":"C6 mut","v":0.00096},{"g":"C6 mut","v":0.00068},{"g":"C6 mut","v":0.00058},{"g":"C6 mut","v":0.00058},{"g":"C6 mut","v":0.00053},{"g":"C6 mut","v":0.00045},{"g":"C6 mut","v":0.00045}
],
"brA": [
{"b":1,"o":1,"g":"OPSCC","v":0.001118},{"b":1,"o":2,"g":"OPSCC","v":0.001253},{"b":1,"o":3,"g":"OPSCC HPV+","v":0.001253},{"b":1,"o":4,"g":"OPSCC HPV+","v":0.000859}
],
"brB1": [
{"b":1,"o":1,"g":"Wt","v":0.001465},{"b":1,"o":2,"g":"Wt","v":0.001892},{"b":1,"o":3,"g":"LR","v":0.001892},{"b":1,"o":4,"g":"LR","v":0.001768},
{"b":2,"o":1,"g":"Wt","v":0.001465},{"b":2,"o":2,"g":"Wt","v":0.002037},{"b":2,"o":3,"g":"HR","v":0.002037},{"b":2,"o":4,"g":"HR","v":0.001787},
{"b":3,"o":1,"g":"Wt","v":0.001465},{"b":3,"o":2,"g":"Wt","v":0.002195},{"b":3,"o":3,"g":"Other","v":0.002195},{"b":3,"o":4,"g":"Other","v":0.001539}
],
"brB2": [
{"b":1,"o":1,"g":"Wt","v":0.00107},{"b":1,"o":2,"g":"Wt","v":0.00168},{"b":1,"o":3,"g":"HR","v":0.00168},{"b":1,"o":4,"g":"HR","v":0.0015},
{"b":2,"o":1,"g":"LR","v":0.0015},{"b":2,"o":2,"g":"Other","v":0.0015}
],
"brC": [
{"b":1,"o":1,"g":"TP53 wt","v":0.001767},{"b":1,"o":2,"g":"TP53 wt","v":0.002044},{"b":1,"o":3,"g":"TP53 mut","v":0.002044},{"b":1,"o":4,"g":"TP53 mut","v":0.00184},
{"b":2,"o":1,"g":"HRAS wt","v":0.00184},{"b":2,"o":2,"g":"HRAS wt","v":0.001975},{"b":2,"o":3,"g":"HRAS mut","v":0.001975},{"b":2,"o":4,"g":"HRAS mut","v":0.001004},
{"b":3,"o":1,"g":"C6 wt","v":0.0018},{"b":3,"o":2,"g":"C6 wt","v":0.002016},{"b":3,"o":3,"g":"C6 mut","v":0.002016},{"b":3,"o":4,"g":"C6 mut","v":0.001857}
]
},
"columns": 3,
"align": "each",
"bounds": "flush",
"spacing": {"row": 214, "column": 59},
"resolve": {"scale": {"x": "independent", "y": "independent", "color": "independent", "shape": "independent", "size": "independent", "xOffset": "independent"}},
"concat": [
{
 "width": 280, "height": 291,
 "title": {"text": "A", "anchor": "start", "frame": "group", "dx": -90, "offset": 1, "fontSize": 28, "fontWeight": "bold", "baseline": "alphabetic"},
 "encoding": {
  "x": {"field": "g", "type": "nominal", "scale": {"type": "band", "domain": ["LHSCC","LHSCC HPV+","OCSCC","OCSCC HPV+","OPSCC","OPSCC HPV+"], "range": [17, 280], "paddingInner": 0, "paddingOuter": 0.146},
        "axis": {"title": null, "labelFont": "Lato", "labelFontSize": 21, "labelFontWeight": "normal", "labelAngle": -55, "labelAlign": "left", "labelBaseline": "alphabetic", "labelOffset": -45, "labelPadding": 120, "labelOverlap": false, "labelBound": false, "labelLimit": 300, "domainWidth": 2.5, "tickWidth": 2.5, "tickSize": 8}},
  "y": {"field": "v", "type": "quantitative", "scale": {"domain": [0, 0.002], "nice": false},
        "axis": {"title": "MuNI", "titleFontSize": 17, "titlePadding": 22, "values": [0, 0.0005, 0.001, 0.0015, 0.002], "format": ".4f", "labelFontSize": 17.5, "labelPadding": 3, "domainWidth": 2.5, "tickWidth": 2.5, "tickSize": 9, "offset": -17}}
 },
 "layer": [
  {"data": {"name": "A"},
   "transform": [
    {"calculate": "floor(datum.v/0.00004)", "as": "bin"},
    {"joinaggregate": [{"op": "count", "as": "nb"}], "groupby": ["g", "bin"]},
    {"joinaggregate": [{"op": "max", "field": "nb", "as": "mx"}], "groupby": ["g"]},
    {"window": [{"op": "row_number", "as": "r"}], "groupby": ["g", "bin"], "sort": [{"field": "v", "order": "ascending"}]},
    {"calculate": "(datum.r%2==0?1:-1)*floor(datum.r/2)*(datum.bin%2==0?1:-1)*min(9,10/max(1,floor(datum.mx/2)))", "as": "o"}
   ],
   "mark": {"type": "point", "filled": true, "opacity": 1, "strokeWidth": 0},
   "encoding": {
    "xOffset": {"field": "o", "type": "quantitative", "scale": {"domain": [-20.9, 20.9]}},
    "color": {"field": "g", "type": "nominal", "legend": null, "scale": {"domain": ["LHSCC","LHSCC HPV+","OCSCC","OCSCC HPV+","OPSCC","OPSCC HPV+"], "range": ["#21e021","#21e021","#0f7ef2","#0f7ef2","#b00000","#b00000"]}},
    "shape": {"field": "g", "type": "nominal", "legend": null, "scale": {"domain": ["LHSCC","LHSCC HPV+","OCSCC","OCSCC HPV+","OPSCC","OPSCC HPV+"], "range": ["circle","square","circle","square","circle","square"]}},
    "size": {"field": "g", "type": "nominal", "legend": null, "scale": {"domain": ["LHSCC","LHSCC HPV+","OCSCC","OCSCC HPV+","OPSCC","OPSCC HPV+"], "range": [52, 50, 52, 50, 64, 55]}}
   }},
  {"data": {"name": "A"}, "mark": {"type": "tick", "color": "#000", "thickness": 3, "size": 27},
   "encoding": {"y": {"aggregate": "median", "field": "v", "type": "quantitative", "title": "MuNI"}}},
  {"data": {"name": "brA"}, "mark": {"type": "line", "color": "#000", "strokeWidth": 2.5},
   "encoding": {"detail": {"field": "b", "type": "nominal"}, "order": {"field": "o", "type": "quantitative"}}},
  {"data": {"values": [{"g": "OPSCC", "v": 0.001409, "t": "P<0.0001"}]},
   "mark": {"type": "text", "dx": 17, "fontSize": 18, "fontWeight": "bold", "baseline": "middle"},
   "encoding": {"text": {"field": "t"}}}
 ]
},
{
 "width": 209, "height": 283,
 "title": {"text": "B", "anchor": "start", "frame": "group", "dx": -36, "offset": 5, "fontSize": 27, "fontWeight": "bold", "baseline": "alphabetic"},
 "encoding": {
  "x": {"field": "g", "type": "nominal", "scale": {"type": "band", "domain": ["Wt","LR","HR","Other"], "range": [0, 189], "paddingInner": 0, "paddingOuter": 0.1316},
        "axis": {"title": "OCSCC HPV-", "titleFont": "Lato", "titleFontSize": 21.5, "titleFontWeight": "normal", "titleX": 66.5, "titleY": 56, "titleAlign": "center", "titleBaseline": "middle", "labelAngle": 0, "labelFontSize": 15, "labelBaseline": "middle", "labelPadding": 12, "domainWidth": 2, "tickWidth": 2, "tickSize": 6}},
  "y": {"field": "v", "type": "quantitative", "scale": {"domain": [0, 0.002], "nice": false, "range": [283, 30]},
        "axis": {"title": "MuNI", "titleFontSize": 10, "titlePadding": 19, "values": [0, 0.0005, 0.001, 0.0015, 0.002], "format": ".4f", "labelFontSize": 15.5, "labelPadding": 3, "domainWidth": 2, "tickWidth": 2, "tickSize": 6}}
 },
 "layer": [
  {"data": {"name": "B1"},
   "transform": [
    {"calculate": "floor(datum.v/0.00005)", "as": "bin"},
    {"joinaggregate": [{"op": "count", "as": "nb"}], "groupby": ["g", "bin"]},
    {"joinaggregate": [{"op": "max", "field": "nb", "as": "mx"}], "groupby": ["g"]},
    {"window": [{"op": "row_number", "as": "r"}], "groupby": ["g", "bin"], "sort": [{"field": "v", "order": "ascending"}]},
    {"calculate": "(datum.r%2==0?1:-1)*floor(datum.r/2)*(datum.bin%2==0?1:-1)*min(9,15/max(1,floor(datum.mx/2)))", "as": "o"}
   ],
   "mark": {"type": "point", "filled": true, "opacity": 1, "strokeWidth": 0, "color": "#a6a6a6"},
   "encoding": {
    "xOffset": {"field": "o", "type": "quantitative", "scale": {"domain": [-22.17, 22.17]}},
    "shape": {"field": "g", "type": "nominal", "legend": null, "scale": {"domain": ["Wt","LR","HR","Other"], "range": ["circle","square","triangle-up","triangle-down"]}},
    "size": {"field": "g", "type": "nominal", "legend": null, "scale": {"domain": ["Wt","LR","HR","Other"], "range": [40, 42, 45, 45]}}
   }},
  {"data": {"name": "B1"}, "mark": {"type": "tick", "color": "#000", "thickness": 2.5, "size": 28},
   "encoding": {"y": {"aggregate": "median", "field": "v", "type": "quantitative", "title": "MuNI"}}},
  {"data": {"name": "brB1"}, "mark": {"type": "line", "color": "#000", "strokeWidth": 2},
   "encoding": {"detail": {"field": "b", "type": "nominal"}, "order": {"field": "o", "type": "quantitative"}}},
  {"data": {"values": [{"g": "LR", "v": 0.001953, "t": "N.S."}]},
   "mark": {"type": "text", "dx": -13, "fontSize": 12.5, "fontWeight": "bold", "baseline": "middle"},
   "encoding": {"text": {"field": "t"}}},
  {"data": {"values": [{"g": "HR", "v": 0.001985, "t": "*"}, {"g": "Other", "v": 0.00215, "t": "**"}]},
   "mark": {"type": "text", "dx": -23, "fontSize": 22, "fontWeight": "bold", "baseline": "alphabetic"},
   "encoding": {"text": {"field": "t"}}},
  {"data": {"values": [{"g": "Wt", "v": 0, "t": "TP53"}]},
   "mark": {"type": "text", "dx": -46.5, "dy": 18, "fontSize": 15, "fontWeight": "bold", "baseline": "middle"},
   "encoding": {"text": {"field": "t"}}}
 ]
},
{
 "width": 186, "height": 280,
 "encoding": {
  "x": {"field": "g", "type": "nominal", "scale": {"type": "band", "domain": ["Wt","LR","HR","Other"], "range": [0, 186], "paddingInner": 0, "paddingOuter": 0.18},
        "axis": {"title": "LHSCC HPV-", "titleFont": "Lato", "titleFontSize": 21.5, "titleFontWeight": "normal", "titleX": 98.5, "titleY": 61, "titleAlign": "center", "titleBaseline": "middle", "labelAngle": 0, "labelFontSize": 15, "labelBaseline": "middle", "labelPadding": 14, "domainWidth": 2, "tickWidth": 2, "tickSize": 6}},
  "y": {"field": "v", "type": "quantitative", "scale": {"domain": [0, 0.002], "nice": false, "range": [280, 28]},
        "axis": {"title": "MuNI", "titleFontSize": 10, "titlePadding": 7, "values": [0, 0.0005, 0.001, 0.0015, 0.002], "format": ".4f", "labelFontSize": 15.5, "labelPadding": 3, "domainWidth": 2, "tickWidth": 2, "tickSize": 6}}
 },
 "layer": [
  {"data": {"name": "B2"},
   "transform": [
    {"calculate": "floor(datum.v/0.00005)", "as": "bin"},
    {"joinaggregate": [{"op": "count", "as": "nb"}], "groupby": ["g", "bin"]},
    {"joinaggregate": [{"op": "max", "field": "nb", "as": "mx"}], "groupby": ["g"]},
    {"window": [{"op": "row_number", "as": "r"}], "groupby": ["g", "bin"], "sort": [{"field": "v", "order": "ascending"}]},
    {"calculate": "(datum.r%2==0?1:-1)*floor(datum.r/2)*(datum.bin%2==0?1:-1)*min(11,15/max(1,floor(datum.mx/2)))", "as": "o"}
   ],
   "mark": {"type": "point", "filled": true, "opacity": 1, "strokeWidth": 0, "color": "#a6a6a6"},
   "encoding": {
    "xOffset": {"field": "o", "type": "quantitative", "scale": {"domain": [-21.33, 21.33]}},
    "shape": {"field": "g", "type": "nominal", "legend": null, "scale": {"domain": ["Wt","LR","HR","Other"], "range": ["circle","square","triangle-up","triangle-down"]}},
    "size": {"field": "g", "type": "nominal", "legend": null, "scale": {"domain": ["Wt","LR","HR","Other"], "range": [55, 60, 65, 60]}}
   }},
  {"data": {"name": "B2"}, "mark": {"type": "tick", "color": "#000", "thickness": 2.5, "size": 28},
   "encoding": {"y": {"aggregate": "median", "field": "v", "type": "quantitative", "title": "MuNI"}}},
  {"data": {"name": "brB2"}, "mark": {"type": "line", "color": "#000", "strokeWidth": 1.8},
   "encoding": {"detail": {"field": "b", "type": "nominal"}, "order": {"field": "o", "type": "quantitative"}}},
  {"data": {"values": [{"g": "HR", "v": 0.001746, "t": "N.S."}]},
   "mark": {"type": "text", "dx": 4, "fontSize": 11.5, "fontWeight": "bold", "baseline": "middle"},
   "encoding": {"text": {"field": "t"}}},
  {"data": {"values": [{"g": "Wt", "v": 0, "t": "TP53"}]},
   "mark": {"type": "text", "dx": -43.5, "dy": 21, "fontSize": 15, "fontWeight": "bold", "baseline": "middle"},
   "encoding": {"text": {"field": "t"}}}
 ]
},
{
 "width": 359, "height": 321,
 "title": {"text": "C", "anchor": "start", "frame": "group", "dx": -111, "offset": -14, "fontSize": 25, "font": "Lato", "fontWeight": "bold", "baseline": "alphabetic"},
 "encoding": {
  "x": {"field": "g", "type": "nominal", "scale": {"type": "band", "domain": ["TP53 wt","TP53 mut","HRAS wt","HRAS mut","C6 wt","C6 mut"], "range": [0, 359], "paddingInner": 0, "paddingOuter": 0.194},
        "axis": {"title": "HNSCC HPV-", "titleFont": "Lato", "titleFontSize": 21.5, "titleFontWeight": "normal", "titleX": 164.5, "titleY": 135, "titleAlign": "center", "titleBaseline": "middle", "labelAngle": -45, "labelAlign": "right", "labelBaseline": "middle", "labelFontSize": 19, "labelOffset": 8, "labelPadding": 10, "labelOverlap": false, "labelBound": false, "domainWidth": 3, "tickWidth": 3, "tickSize": 8}},
  "y": {"field": "v", "type": "quantitative", "scale": {"domain": [0, 0.002], "nice": false},
        "axis": {"title": "MuNI", "titleFontSize": 18, "titlePadding": 31, "values": [0, 0.0005, 0.001, 0.0015, 0.002], "format": ".4f", "labelFontSize": 19, "labelPadding": 3, "domainWidth": 3, "tickWidth": 3, "tickSize": 8}}
 },
 "layer": [
  {"data": {"name": "C"},
   "transform": [
    {"calculate": "floor(datum.v/0.00004)", "as": "bin"},
    {"joinaggregate": [{"op": "count", "as": "nb"}], "groupby": ["g", "bin"]},
    {"joinaggregate": [{"op": "max", "field": "nb", "as": "mx"}], "groupby": ["g"]},
    {"window": [{"op": "row_number", "as": "r"}], "groupby": ["g", "bin"], "sort": [{"field": "v", "order": "ascending"}]},
    {"calculate": "(datum.r%2==0?1:-1)*floor(datum.r/2)*(datum.bin%2==0?1:-1)*min(12,18/max(1,floor(datum.mx/2)))", "as": "o"}
   ],
   "mark": {"type": "point", "filled": true, "opacity": 1, "strokeWidth": 0},
   "encoding": {
    "xOffset": {"field": "o", "type": "quantitative", "scale": {"domain": [-28.1, 28.1]}},
    "color": {"field": "g", "type": "nominal", "legend": null, "scale": {"domain": ["TP53 wt","TP53 mut","HRAS wt","HRAS mut","C6 wt","C6 mut"], "range": ["#0f7ef2","#ff9d3c","#0f7ef2","#ff9d3c","#0f7ef2","#ff9d3c"]}},
    "shape": {"field": "g", "type": "nominal", "legend": null, "scale": {"domain": ["TP53 wt","TP53 mut","HRAS wt","HRAS mut","C6 wt","C6 mut"], "range": ["triangle-up","triangle-up","circle","circle","diamond","diamond"]}},
    "size": {"field": "g", "type": "nominal", "legend": null, "scale": {"domain": ["TP53 wt","TP53 mut","HRAS wt","HRAS mut","C6 wt","C6 mut"], "range": [34, 50, 40, 60, 24, 30]}}
   }},
  {"data": {"name": "C"}, "mark": {"type": "tick", "color": "#000", "thickness": 3, "size": 37},
   "encoding": {"y": {"aggregate": "median", "field": "v", "type": "quantitative", "title": "MuNI"}}},
  {"data": {"name": "brC"}, "mark": {"type": "line", "color": "#000", "strokeWidth": 3},
   "encoding": {"detail": {"field": "b", "type": "nominal"}, "order": {"field": "o", "type": "quantitative"}}},
  {"data": {"values": [{"g": "TP53 wt", "v": 0.002195, "t": "P = 0.003"}, {"g": "HRAS wt", "v": 0.002095, "t": "P = 0.007"}, {"g": "C6 wt", "v": 0.002166, "t": "P = 0.011"}]},
   "mark": {"type": "text", "dx": 28, "fontSize": 17, "fontWeight": "bold", "baseline": "middle"},
   "encoding": {"text": {"field": "t"}}}
 ]
}
]
}
